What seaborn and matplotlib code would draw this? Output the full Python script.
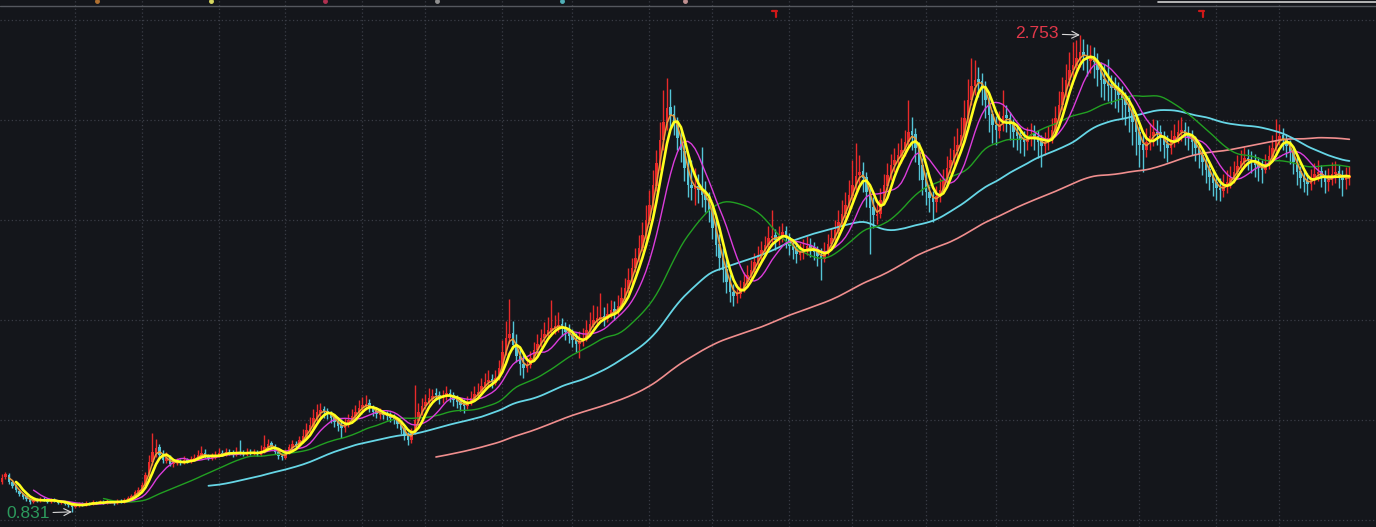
import numpy as np
import pandas as pd
import matplotlib
matplotlib.use("Agg")
import matplotlib.pyplot as plt
import seaborn as sns

# --------------------
# Price data (one bar = two sessions of the original chart)
# --------------------

opens = [
    0.952, 0.970, 0.980, 0.950, 0.937, 0.917, 0.901, 0.893, 0.881, 0.871,
    0.879, 0.875, 0.883, 0.879, 0.871, 0.879, 0.875, 0.867, 0.871, 0.865,
    0.859, 0.851, 0.857, 0.863, 0.859, 0.867, 0.863, 0.871, 0.865, 0.871,
    0.867, 0.875, 0.871, 0.867, 0.875, 0.871, 0.877, 0.885, 0.893, 0.909,
    0.917, 0.942, 0.978, 1.030, 1.070, 1.092, 1.062, 1.036, 1.050, 1.022,
    1.028, 1.038, 1.026, 1.042, 1.030, 1.042, 1.046, 1.058, 1.070, 1.058,
    1.046, 1.050, 1.058, 1.070, 1.062, 1.074, 1.068, 1.062, 1.074, 1.070,
    1.062, 1.072, 1.066, 1.074, 1.062, 1.074, 1.090, 1.108, 1.098, 1.074,
    1.058, 1.050, 1.070, 1.090, 1.106, 1.095, 1.118, 1.134, 1.158, 1.178,
    1.206, 1.230, 1.246, 1.236, 1.228, 1.212, 1.196, 1.181, 1.167, 1.183,
    1.200, 1.216, 1.230, 1.248, 1.258, 1.268, 1.252, 1.236, 1.222, 1.230,
    1.224, 1.220, 1.212, 1.204, 1.187, 1.163, 1.139, 1.119, 1.150, 1.198,
    1.230, 1.256, 1.272, 1.286, 1.310, 1.304, 1.288, 1.296, 1.312, 1.300,
    1.284, 1.276, 1.264, 1.256, 1.272, 1.288, 1.302, 1.312, 1.336, 1.353,
    1.365, 1.351, 1.369, 1.409, 1.473, 1.530, 1.550, 1.502, 1.461, 1.425,
    1.409, 1.421, 1.449, 1.482, 1.506, 1.530, 1.546, 1.560, 1.574, 1.578,
    1.588, 1.574, 1.558, 1.542, 1.526, 1.506, 1.514, 1.530, 1.562, 1.586,
    1.602, 1.610, 1.620, 1.610, 1.627, 1.648, 1.635, 1.659, 1.691, 1.731,
    1.764, 1.812, 1.852, 1.893, 1.945, 2.005, 2.066, 2.146, 2.235, 2.328,
    2.400, 2.461, 2.433, 2.392, 2.336, 2.287, 2.215, 2.150, 2.134, 2.146,
    2.126, 2.110, 2.090, 2.050, 1.977, 1.909, 1.856, 1.808, 1.760, 1.719,
    1.699, 1.711, 1.731, 1.756, 1.784, 1.804, 1.836, 1.864, 1.885, 1.905,
    1.933, 1.945, 1.925, 1.941, 1.961, 1.937, 1.905, 1.889, 1.868, 1.876,
    1.885, 1.905, 1.897, 1.880, 1.864, 1.852, 1.876, 1.909, 1.933, 1.965,
    1.997, 2.030, 2.066, 2.106, 2.146, 2.187, 2.203, 2.179, 2.122, 2.058,
    2.025, 2.030, 2.086, 2.146, 2.187, 2.231, 2.247, 2.267, 2.287, 2.320,
    2.366, 2.352, 2.300, 2.231, 2.171, 2.122, 2.098, 2.078, 2.102, 2.126,
    2.167, 2.215, 2.247, 2.287, 2.308, 2.348, 2.416, 2.489, 2.546, 2.574,
    2.566, 2.541, 2.493, 2.433, 2.392, 2.368, 2.392, 2.429, 2.420, 2.392,
    2.364, 2.348, 2.332, 2.320, 2.336, 2.356, 2.344, 2.324, 2.304, 2.320,
    2.336, 2.368, 2.416, 2.469, 2.521, 2.570, 2.610, 2.630, 2.658, 2.686,
    2.674, 2.650, 2.662, 2.646, 2.614, 2.574, 2.558, 2.550, 2.541, 2.533,
    2.513, 2.493, 2.473, 2.445, 2.404, 2.364, 2.312, 2.291, 2.320, 2.344,
    2.364, 2.360, 2.340, 2.312, 2.296, 2.320, 2.344, 2.360, 2.372, 2.356,
    2.340, 2.324, 2.300, 2.271, 2.243, 2.211, 2.183, 2.159, 2.138, 2.126,
    2.142, 2.159, 2.175, 2.199, 2.223, 2.243, 2.259, 2.251, 2.243, 2.231,
    2.219, 2.207, 2.227, 2.263, 2.296, 2.328, 2.348, 2.332, 2.308, 2.283,
    2.243, 2.203, 2.179, 2.163, 2.151, 2.167, 2.191, 2.203, 2.187, 2.159,
    2.167, 2.191, 2.203, 2.187, 2.167, 2.175,
]

highs = [
    0.984, 0.992, 0.988, 0.958, 0.944, 0.923, 0.907, 0.897, 0.887, 0.887,
    0.885, 0.891, 0.889, 0.883, 0.887, 0.885, 0.879, 0.879, 0.875, 0.869,
    0.863, 0.867, 0.871, 0.869, 0.873, 0.871, 0.877, 0.875, 0.877, 0.879,
    0.881, 0.879, 0.875, 0.883, 0.881, 0.887, 0.895, 0.903, 0.919, 0.931,
    0.952, 0.992, 1.060, 1.149, 1.125, 1.105, 1.080, 1.072, 1.060, 1.044,
    1.048, 1.046, 1.056, 1.050, 1.058, 1.064, 1.080, 1.097, 1.085, 1.064,
    1.068, 1.076, 1.089, 1.080, 1.088, 1.084, 1.080, 1.093, 1.121, 1.080,
    1.089, 1.084, 1.085, 1.080, 1.101, 1.141, 1.125, 1.117, 1.105, 1.080,
    1.068, 1.084, 1.105, 1.121, 1.117, 1.137, 1.165, 1.190, 1.214, 1.246,
    1.266, 1.270, 1.258, 1.250, 1.238, 1.226, 1.214, 1.206, 1.210, 1.226,
    1.246, 1.262, 1.282, 1.294, 1.302, 1.286, 1.262, 1.254, 1.250, 1.242,
    1.238, 1.234, 1.226, 1.214, 1.198, 1.173, 1.153, 1.169, 1.343, 1.270,
    1.290, 1.306, 1.331, 1.327, 1.331, 1.318, 1.322, 1.339, 1.326, 1.314,
    1.302, 1.290, 1.286, 1.298, 1.318, 1.339, 1.351, 1.371, 1.391, 1.403,
    1.387, 1.403, 1.443, 1.524, 1.601, 1.690, 1.601, 1.548, 1.496, 1.467,
    1.455, 1.480, 1.516, 1.548, 1.568, 1.597, 1.617, 1.685, 1.625, 1.637,
    1.613, 1.596, 1.588, 1.568, 1.552, 1.560, 1.572, 1.605, 1.637, 1.665,
    1.660, 1.713, 1.656, 1.673, 1.685, 1.681, 1.705, 1.737, 1.774, 1.814,
    1.854, 1.895, 1.947, 1.999, 2.068, 2.128, 2.209, 2.289, 2.402, 2.531,
    2.580, 2.535, 2.470, 2.423, 2.370, 2.330, 2.269, 2.249, 2.217, 2.193,
    2.300, 2.165, 2.120, 2.080, 2.020, 1.951, 1.895, 1.846, 1.790, 1.750,
    1.750, 1.766, 1.798, 1.826, 1.846, 1.875, 1.903, 1.923, 1.943, 1.983,
    2.048, 1.971, 1.983, 1.995, 1.983, 1.955, 1.931, 1.923, 1.915, 1.931,
    1.943, 1.935, 1.919, 1.903, 1.895, 1.919, 1.951, 1.975, 2.007, 2.048,
    2.088, 2.120, 2.169, 2.249, 2.318, 2.269, 2.241, 2.201, 2.144, 2.100,
    2.088, 2.136, 2.193, 2.237, 2.273, 2.298, 2.318, 2.338, 2.370, 2.491,
    2.423, 2.378, 2.322, 2.257, 2.201, 2.144, 2.124, 2.144, 2.177, 2.213,
    2.265, 2.298, 2.346, 2.378, 2.423, 2.491, 2.576, 2.660, 2.652, 2.624,
    2.600, 2.568, 2.515, 2.451, 2.427, 2.447, 2.531, 2.471, 2.443, 2.415,
    2.390, 2.382, 2.366, 2.382, 2.398, 2.390, 2.370, 2.350, 2.362, 2.386,
    2.418, 2.467, 2.527, 2.584, 2.636, 2.684, 2.725, 2.733, 2.753, 2.737,
    2.717, 2.713, 2.705, 2.680, 2.644, 2.636, 2.656, 2.592, 2.584, 2.564,
    2.548, 2.523, 2.503, 2.471, 2.431, 2.386, 2.358, 2.378, 2.398, 2.415,
    2.410, 2.390, 2.366, 2.350, 2.370, 2.394, 2.410, 2.423, 2.402, 2.386,
    2.370, 2.346, 2.318, 2.289, 2.261, 2.233, 2.205, 2.185, 2.177, 2.193,
    2.209, 2.225, 2.245, 2.269, 2.289, 2.302, 2.294, 2.285, 2.273, 2.261,
    2.249, 2.273, 2.310, 2.350, 2.415, 2.394, 2.378, 2.354, 2.330, 2.302,
    2.261, 2.225, 2.209, 2.197, 2.213, 2.237, 2.249, 2.229, 2.209, 2.217,
    2.241, 2.245, 2.229, 2.209, 2.221, 2.225,
]

lows = [
    0.944, 0.962, 0.944, 0.927, 0.911, 0.895, 0.883, 0.875, 0.863, 0.867,
    0.869, 0.871, 0.873, 0.865, 0.867, 0.869, 0.861, 0.863, 0.857, 0.851,
    0.831, 0.845, 0.851, 0.853, 0.855, 0.857, 0.859, 0.861, 0.861, 0.861,
    0.863, 0.865, 0.859, 0.863, 0.865, 0.867, 0.873, 0.881, 0.889, 0.903,
    0.913, 0.936, 0.972, 1.020, 1.052, 1.044, 1.028, 1.028, 1.016, 1.012,
    1.020, 1.020, 1.022, 1.026, 1.026, 1.034, 1.040, 1.050, 1.048, 1.040,
    1.040, 1.044, 1.052, 1.056, 1.056, 1.060, 1.054, 1.058, 1.060, 1.056,
    1.058, 1.060, 1.060, 1.058, 1.058, 1.068, 1.080, 1.084, 1.064, 1.044,
    1.040, 1.046, 1.066, 1.084, 1.088, 1.091, 1.110, 1.126, 1.150, 1.170,
    1.196, 1.214, 1.210, 1.206, 1.190, 1.173, 1.157, 1.129, 1.153, 1.173,
    1.190, 1.206, 1.222, 1.238, 1.242, 1.234, 1.218, 1.210, 1.206, 1.206,
    1.202, 1.194, 1.186, 1.169, 1.145, 1.121, 1.100, 1.109, 1.145, 1.190,
    1.222, 1.246, 1.262, 1.274, 1.282, 1.266, 1.270, 1.282, 1.274, 1.258,
    1.250, 1.238, 1.230, 1.246, 1.262, 1.278, 1.290, 1.302, 1.326, 1.339,
    1.330, 1.343, 1.363, 1.403, 1.463, 1.512, 1.488, 1.435, 1.383, 1.371,
    1.395, 1.411, 1.439, 1.467, 1.496, 1.516, 1.530, 1.540, 1.548, 1.556,
    1.540, 1.524, 1.512, 1.496, 1.476, 1.451, 1.500, 1.520, 1.552, 1.576,
    1.588, 1.596, 1.580, 1.596, 1.612, 1.604, 1.625, 1.649, 1.681, 1.713,
    1.750, 1.798, 1.838, 1.881, 1.931, 1.991, 2.048, 2.124, 2.209, 2.289,
    2.370, 2.378, 2.350, 2.290, 2.241, 2.165, 2.100, 2.088, 2.068, 2.076,
    2.060, 2.040, 2.000, 1.931, 1.862, 1.806, 1.758, 1.713, 1.677, 1.661,
    1.673, 1.693, 1.717, 1.742, 1.770, 1.790, 1.822, 1.846, 1.866, 1.891,
    1.903, 1.887, 1.907, 1.919, 1.895, 1.866, 1.850, 1.834, 1.846, 1.850,
    1.866, 1.858, 1.846, 1.822, 1.766, 1.838, 1.866, 1.895, 1.919, 1.951,
    1.983, 2.015, 2.048, 2.088, 2.128, 2.144, 2.120, 2.060, 1.870, 1.975,
    1.991, 2.015, 2.072, 2.128, 2.169, 2.201, 2.221, 2.237, 2.265, 2.298,
    2.289, 2.241, 2.169, 2.108, 2.068, 2.040, 2.000, 2.040, 2.080, 2.112,
    2.148, 2.197, 2.229, 2.257, 2.289, 2.330, 2.398, 2.471, 2.511, 2.503,
    2.471, 2.418, 2.362, 2.318, 2.310, 2.338, 2.366, 2.362, 2.330, 2.302,
    2.290, 2.277, 2.265, 2.289, 2.306, 2.290, 2.257, 2.221, 2.269, 2.289,
    2.318, 2.350, 2.398, 2.451, 2.503, 2.548, 2.580, 2.600, 2.624, 2.612,
    2.588, 2.600, 2.580, 2.548, 2.503, 2.491, 2.487, 2.475, 2.459, 2.443,
    2.418, 2.390, 2.362, 2.310, 2.269, 2.221, 2.201, 2.261, 2.290, 2.306,
    2.310, 2.285, 2.257, 2.241, 2.273, 2.302, 2.318, 2.326, 2.310, 2.290,
    2.269, 2.245, 2.217, 2.189, 2.157, 2.128, 2.104, 2.088, 2.084, 2.100,
    2.116, 2.136, 2.157, 2.181, 2.201, 2.217, 2.209, 2.197, 2.181, 2.165,
    2.157, 2.197, 2.213, 2.249, 2.285, 2.310, 2.289, 2.261, 2.233, 2.193,
    2.149, 2.136, 2.120, 2.108, 2.128, 2.153, 2.165, 2.140, 2.116, 2.124,
    2.149, 2.157, 2.136, 2.104, 2.132, 2.149,
]

closes = [
    0.968, 0.984, 0.952, 0.935, 0.919, 0.903, 0.891, 0.883, 0.871, 0.879,
    0.875, 0.883, 0.879, 0.871, 0.879, 0.875, 0.867, 0.871, 0.863, 0.859,
    0.851, 0.859, 0.863, 0.859, 0.867, 0.863, 0.871, 0.867, 0.871, 0.867,
    0.875, 0.871, 0.867, 0.875, 0.871, 0.879, 0.887, 0.895, 0.911, 0.919,
    0.940, 0.980, 1.032, 1.072, 1.089, 1.060, 1.040, 1.048, 1.024, 1.028,
    1.036, 1.028, 1.040, 1.032, 1.044, 1.048, 1.060, 1.068, 1.056, 1.048,
    1.052, 1.060, 1.068, 1.064, 1.072, 1.068, 1.064, 1.072, 1.068, 1.064,
    1.072, 1.068, 1.072, 1.064, 1.076, 1.093, 1.105, 1.097, 1.072, 1.056,
    1.052, 1.072, 1.093, 1.105, 1.097, 1.121, 1.137, 1.161, 1.181, 1.210,
    1.234, 1.242, 1.234, 1.226, 1.210, 1.193, 1.177, 1.169, 1.185, 1.202,
    1.218, 1.234, 1.250, 1.262, 1.266, 1.250, 1.234, 1.226, 1.226, 1.222,
    1.218, 1.210, 1.202, 1.185, 1.161, 1.137, 1.121, 1.153, 1.202, 1.234,
    1.258, 1.274, 1.290, 1.298, 1.302, 1.290, 1.298, 1.310, 1.298, 1.282,
    1.274, 1.262, 1.258, 1.274, 1.290, 1.306, 1.314, 1.338, 1.355, 1.363,
    1.355, 1.371, 1.411, 1.475, 1.532, 1.548, 1.504, 1.459, 1.427, 1.411,
    1.423, 1.451, 1.484, 1.508, 1.532, 1.548, 1.564, 1.572, 1.580, 1.584,
    1.572, 1.556, 1.540, 1.524, 1.508, 1.516, 1.532, 1.564, 1.588, 1.604,
    1.612, 1.617, 1.612, 1.629, 1.645, 1.637, 1.661, 1.693, 1.733, 1.766,
    1.814, 1.854, 1.895, 1.947, 2.007, 2.068, 2.148, 2.237, 2.330, 2.402,
    2.459, 2.431, 2.390, 2.338, 2.289, 2.217, 2.148, 2.136, 2.144, 2.128,
    2.108, 2.088, 2.048, 1.975, 1.907, 1.854, 1.806, 1.758, 1.717, 1.701,
    1.713, 1.733, 1.758, 1.786, 1.806, 1.838, 1.866, 1.887, 1.907, 1.935,
    1.943, 1.927, 1.943, 1.959, 1.935, 1.903, 1.887, 1.870, 1.878, 1.887,
    1.903, 1.895, 1.878, 1.862, 1.854, 1.878, 1.911, 1.935, 1.967, 1.999,
    2.032, 2.068, 2.108, 2.148, 2.185, 2.201, 2.177, 2.120, 2.056, 2.027,
    2.032, 2.088, 2.148, 2.189, 2.229, 2.249, 2.269, 2.289, 2.322, 2.362,
    2.350, 2.298, 2.229, 2.169, 2.120, 2.096, 2.080, 2.104, 2.128, 2.169,
    2.217, 2.249, 2.289, 2.310, 2.350, 2.418, 2.491, 2.548, 2.572, 2.564,
    2.539, 2.491, 2.431, 2.390, 2.370, 2.394, 2.427, 2.418, 2.390, 2.362,
    2.346, 2.330, 2.322, 2.338, 2.354, 2.342, 2.322, 2.306, 2.322, 2.338,
    2.370, 2.418, 2.471, 2.523, 2.572, 2.612, 2.632, 2.660, 2.684, 2.672,
    2.652, 2.660, 2.644, 2.612, 2.572, 2.556, 2.548, 2.539, 2.531, 2.511,
    2.491, 2.471, 2.443, 2.402, 2.362, 2.310, 2.289, 2.322, 2.346, 2.362,
    2.358, 2.338, 2.310, 2.298, 2.322, 2.346, 2.362, 2.370, 2.354, 2.338,
    2.322, 2.298, 2.269, 2.241, 2.209, 2.181, 2.157, 2.136, 2.128, 2.144,
    2.161, 2.177, 2.201, 2.225, 2.245, 2.257, 2.249, 2.241, 2.229, 2.217,
    2.209, 2.229, 2.265, 2.298, 2.330, 2.346, 2.330, 2.306, 2.281, 2.241,
    2.201, 2.177, 2.161, 2.153, 2.169, 2.193, 2.201, 2.185, 2.161, 2.169,
    2.193, 2.201, 2.185, 2.169, 2.177, 2.185,
]

# moving averages (MA5/10/20/60/120/250 of the daily chart, halved for 2-session bars)
ma_windows = [3, 5, 10, 30, 60, 125]
ma_colors = ['#e89a3c', '#ffff1e', '#dc3cdc', '#22a022', '#66d6e6', '#f08e8e']
ma_widths = [1.1, 1.9, 1.0, 1.0, 1.3, 1.2]

# bar index where each month starts (vertical grid)
period_starts = [21, 40, 62, 81, 103, 121, 143, 163, 185, 203, 225, 243,
                 264, 284, 306, 325, 347, 365]
grid_prices = [0.799, 1.202, 1.605, 2.007, 2.410, 2.813]

bg = '#14161b'
up_color = '#e82a2a'
down_color = '#54c4d6'

# --------------------
# Figure
# --------------------

sns.set_theme(style="dark", rc={
    "axes.facecolor": bg,
    "figure.facecolor": bg,
})
plt.rcParams['font.family'] = ['Liberation Sans', 'DejaVu Sans']

df = pd.DataFrame({'open': opens, 'high': highs, 'low': lows, 'close': closes})
df['idx'] = np.arange(len(df))

fig = plt.figure(figsize=(13.76, 5.27), dpi=100)
ax = fig.add_axes([0, 0, 1, 1])
ax.set_facecolor(bg)

# grid
for p in grid_prices:
    ax.axhline(p, color='#3a3d46', lw=0.9, ls=(0, (1, 2)), zorder=0)
for s in period_starts:
    ax.axvline(s, color='#3a3d46', lw=0.9, ls=(0, (1, 2)), zorder=0)

# candles
is_up = df['close'] >= df['open']
colors = np.where(is_up, up_color, down_color)
ax.vlines(df['idx'], df['low'], df['high'], colors=colors, lw=1.0, zorder=2)
body_low = np.minimum(df['open'], df['close'])
body_h = np.maximum((df['close'] - df['open']).abs(), 0.003)
ax.bar(df['idx'], body_h, bottom=body_low, width=0.65, color=colors,
       linewidth=0, zorder=2)

# moving averages, yellow on top
order = [5, 4, 3, 2, 0, 1]
for k in order:
    ma = df['close'].rolling(ma_windows[k]).mean()
    sns.lineplot(x=df['idx'], y=ma, color=ma_colors[k], lw=ma_widths[k],
                 ax=ax, zorder=3 + (k == 1))

# high / low marks
i_hi = int(df['high'].idxmax())
i_lo = int(df['low'].idxmin())
ax.annotate(f"{df['high'][i_hi]:.3f}", xy=(i_hi, df['high'][i_hi]),
            xytext=(-15, 1), textcoords='offset points', ha='right', va='center',
            color='#e2384a', fontsize=12.5,
            arrowprops=dict(arrowstyle='->', color='#d8d8d8', lw=0.8,
                            shrinkA=0, shrinkB=0), zorder=6)
ax.annotate(f"{df['low'][i_lo]:.3f}", xy=(i_lo, df['low'][i_lo]),
            xytext=(-16, -1), textcoords='offset points', ha='right', va='center',
            color='#2c9a5c', fontsize=12.5,
            arrowprops=dict(arrowstyle='->', color='#d8d8d8', lw=0.8,
                            shrinkA=0, shrinkB=0), zorder=6)

# header remnants
ax.plot([0, 1], [1 - 6 / 527] * 2, transform=ax.transAxes, color='#55585e', lw=1)
ax.plot([1158 / 1376, 1], [1 - 2 / 527] * 2, transform=ax.transAxes,
        color='#d0d0d0', lw=1.2)
for fx in [776 / 1376, 1203 / 1376]:
    ax.plot([fx - 4 / 1376, fx + 1 / 1376], [1 - 11 / 527] * 2,
            transform=ax.transAxes, color='#d01818', lw=1.6)
    ax.plot([fx, fx], [1 - 11 / 527, 1 - 17 / 527],
            transform=ax.transAxes, color='#d01818', lw=1.6)
dot_x = [97, 211, 325, 437, 562, 685]
dot_c = ['#b07030', '#d8d860', '#b03050', '#909090', '#50b0b8', '#c09090']
for dx, dc in zip(dot_x, dot_c):
    ax.plot([dx / 1376], [1 - 1 / 527], transform=ax.transAxes, marker='o',
            ms=2.5, color=dc, clip_on=False)

ax.set_xlim(-0.57, 392.6)
ax.set_ylim(0.770, 2.894)
ax.set_xticks([])
ax.set_yticks([])
ax.set_xlabel('')
ax.set_ylabel('')
for sp in ax.spines.values():
    sp.set_visible(False)

plt.savefig('out.png', dpi=100, facecolor=bg)
